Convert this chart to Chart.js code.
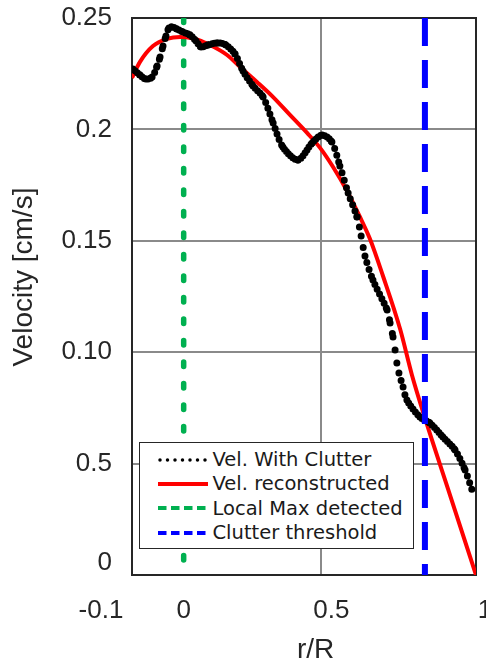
<!DOCTYPE html>
<html>
<head>
<meta charset="utf-8">
<script src="https://cdn.jsdelivr.net/npm/chart.js@4.4.1/dist/chart.umd.min.js"></script>
<style>
  body { margin: 0; background: #fff; }
  #wrap { position: relative; width: 486px; height: 667px; }
  #legend {
    position: absolute; left: 139px; top: 442px; width: 275px; height: 107px;
    box-sizing: border-box; border: 1.5px solid #262626; background: #fff;
    font-family: "DejaVu Sans", Verdana, sans-serif; font-size: 19.5px; color: #1a1a1a;
    padding-top: 4.5px;
  }
  .row { display: flex; align-items: center; height: 24.3px; white-space: nowrap; }
  .row svg { margin-left: 17.5px; margin-right: 5px; flex: none; }
</style>
</head>
<body>
<div id="wrap">
  <canvas id="chart" width="486" height="667"></canvas>
  <div id="legend"></div>
</div>
<script>
// values
const clutterR = [-0.172, -0.148, -0.128, -0.107, -0.090, -0.080, -0.070, -0.060, -0.050, -0.040,
  -0.023, -0.002, 0.021, 0.042, 0.059, 0.082, 0.116, 0.143, 0.174, 0.201,
  0.235, 0.269, 0.303, 0.336, 0.387, 0.435, 0.469, 0.502, 0.529, 0.557,
  0.587, 0.601, 0.614, 0.641, 0.689, 0.699, 0.709, 0.716, 0.722, 0.729,
  0.743, 0.756, 0.800, 0.834, 0.878, 0.919, 0.953, 0.980];
const clutterVel = [0.2271, 0.2244, 0.2226, 0.2235, 0.2285, 0.2325, 0.2374, 0.2419, 0.2455, 0.2460,
  0.2451, 0.2437, 0.2424, 0.2397, 0.2370, 0.2379, 0.2388, 0.2379, 0.2338, 0.2262,
  0.2195, 0.2145, 0.2029, 0.1921, 0.1863, 0.1939, 0.1975, 0.1943, 0.1836, 0.1715,
  0.1607, 0.1522, 0.1432, 0.1324, 0.1189, 0.1131, 0.1068, 0.1010, 0.0952, 0.0907,
  0.0844, 0.0785, 0.0709, 0.0682, 0.0619, 0.0561, 0.0471, 0.0368];

const reconR = [-0.175, -0.148, -0.104, -0.057, -0.012, 0.032, 0.089, 0.147, 0.191, 0.248,
  0.303, 0.360, 0.418, 0.462, 0.506, 0.553, 0.597, 0.631, 0.675, 0.733,
  0.773, 0.817, 0.902, 0.990];
const reconVel = [0.2231, 0.2303, 0.2374, 0.2406, 0.2415, 0.2408, 0.2379, 0.2334, 0.2280, 0.2213,
  0.2145, 0.2065, 0.1984, 0.1917, 0.1831, 0.1724, 0.1607, 0.1508, 0.1342, 0.1104,
  0.0898, 0.0705, 0.0359, 0];

const localMaxR = 0;
const thresholdR = 0.817;

const xMin = -0.175, xMax = 0.99;
const yMin = 0, yMax = 0.25;
const xGridValues = [0.465];
const xTickValues = [-0.28, 0, 0.5, 1.02];
const xTickLabels = ['-0.1', '0', '0.5', '1'];
const yTickValues = [0.0054, 0.05, 0.10, 0.15, 0.20, 0.25];
const yTickLabels = ['0', '0.5', '0.10', '0.15', '0.2', '0.25'];

const legendLabels = ['Vel. With Clutter', 'Vel. reconstructed', 'Local Max detected', 'Clutter threshold'];
const seriesColors = ['#000000', '#ff0000', '#00b050', '#0000ff'];

const textColor = '#262626';
const axisColor = '#262626';
const gridColor = '#8a8a8a';
const tickFont = { family: '"Liberation Sans", Arial, sans-serif', size: 26 };
const titleFont = { family: '"Liberation Sans", Arial, sans-serif', size: 28 };

function pairs(xs, ys) {
  return xs.map((x, i) => ({ x: x, y: ys[i] }));
}

// the clutter curve is a string of dots evenly spaced in x: dense where flat, apart where steep
function dotSpacing(ctx) {
  const dx = Math.abs(ctx.p1.x - ctx.p0.x) || 0.1;
  const len = Math.hypot(ctx.p1.x - ctx.p0.x, ctx.p1.y - ctx.p0.y);
  return [0, Math.max(len / (dx / 2.2), 1)];
}

const ctx = document.getElementById('chart');

new Chart(ctx, {
  type: 'line',
  data: {
    datasets: [{
      label: legendLabels[0],
      data: pairs(clutterR, clutterVel),
      borderColor: seriesColors[0],
      borderWidth: 7,
      borderCapStyle: 'round',
      borderJoinStyle: 'round',
      tension: 0.3,
      segment: { borderDash: dotSpacing },
      xAxisID: 'x', yAxisID: 'y',
      order: 1
    }, {
      label: legendLabels[1],
      data: pairs(reconR, reconVel),
      borderColor: seriesColors[1],
      borderWidth: 4,
      cubicInterpolationMode: 'monotone',
      xAxisID: 'x', yAxisID: 'y',
      order: 2
    }, {
      label: legendLabels[2],
      data: pairs([localMaxR, localMaxR], [yMax, yMin]),
      borderColor: seriesColors[2],
      borderWidth: 5.5,
      borderCapStyle: 'round',
      borderDash: [4.5, 17],
      xAxisID: 'x', yAxisID: 'y',
      order: 3
    }, {
      label: legendLabels[3],
      data: pairs([thresholdR, thresholdR], [yMax, yMin]),
      borderColor: seriesColors[3],
      borderWidth: 6,
      borderDash: [28, 14],
      xAxisID: 'x', yAxisID: 'y',
      order: 0
    }]
  },
  options: {
    responsive: false,
    animation: false,
    layout: { padding: { top: 18, right: 10, left: 0, bottom: 0 } },
    elements: { point: { radius: 0, hoverRadius: 0 } },
    plugins: { legend: { display: false }, tooltip: { enabled: false } },
    scales: {
      // data axis: carries the single vertical grid line and the lower box edge
      x: {
        type: 'linear', position: 'bottom', min: xMin, max: xMax, weight: 1,
        afterBuildTicks: s => { s.ticks = xGridValues.map(v => ({ value: v })); },
        ticks: { display: false },
        grid: { color: gridColor, lineWidth: 2, drawTicks: false },
        border: { display: true, color: axisColor, width: 2 },
        afterFit: s => { s.height = 0; s.paddingLeft = 0; s.paddingRight = 0; }
      },
      // label axis: tick texts and the axis title
      xl: {
        type: 'linear', position: 'bottom', min: xMin, max: xMax, weight: 10,
        afterBuildTicks: s => { s.ticks = xTickValues.map(v => ({ value: v })); },
        ticks: {
          autoSkip: false, minRotation: 0, maxRotation: 0, padding: 20,
          color: textColor, font: tickFont,
          callback: (v, i) => xTickLabels[i]
        },
        grid: { display: false, drawTicks: false },
        border: { display: false },
        title: { display: true, text: '   r/R', color: textColor, font: titleFont, padding: { top: 0, bottom: 0 } },
        afterFit: s => { s.height = 92; s.paddingLeft = 0; s.paddingRight = 0; }
      },
      xt: {
        type: 'linear', position: 'top', min: xMin, max: xMax,
        ticks: { display: false },
        grid: { drawOnChartArea: false, drawTicks: false },
        border: { display: true, color: axisColor, width: 2 },
        afterFit: s => { s.height = 0; s.paddingLeft = 0; s.paddingRight = 0; }
      },
      y: {
        type: 'linear', position: 'left', min: yMin, max: yMax,
        afterBuildTicks: s => { s.ticks = yTickValues.map(v => ({ value: v })); },
        ticks: {
          autoSkip: false, padding: 20, color: textColor, font: tickFont,
          callback: (v, i) => yTickLabels[i]
        },
        grid: {
          color: c => (c.tick && c.tick.value < 0.01) ? 'rgba(0,0,0,0)' : gridColor,
          lineWidth: 2, drawTicks: false
        },
        border: { display: true, color: axisColor, width: 2 },
        title: { display: true, text: '     Velocity [cm/s]', color: textColor, font: titleFont, padding: { top: 7, bottom: 0 } },
        afterFit: s => { s.width = 132; s.paddingTop = 0; s.paddingBottom = 0; }
      },
      yr: {
        type: 'linear', position: 'right', min: yMin, max: yMax,
        ticks: { display: false },
        grid: { drawOnChartArea: false, drawTicks: false },
        border: { display: true, color: axisColor, width: 2 },
        afterFit: s => { s.width = 0; s.paddingTop = 0; s.paddingBottom = 0; }
      }
    }
  }
});

// legend box, drawn as html on top of the plot
const legendStyles = [
  { width: 3.5, dash: '0 7.5', cap: 'round' },
  { width: 4, dash: '', cap: 'butt' },
  { width: 4, dash: '8.5 4.5', cap: 'butt' },
  { width: 4, dash: '8.5 4.5', cap: 'butt' }
];
const legendBox = document.getElementById('legend');
legendLabels.forEach((label, i) => {
  const st = legendStyles[i];
  const row = document.createElement('div');
  row.className = 'row';
  row.innerHTML = '<svg width="50" height="10"><line x1="' + (st.cap === 'round' ? 2 : 0) + '" y1="5" x2="50" y2="5" stroke="' + seriesColors[i] +
    '" stroke-width="' + st.width + '" stroke-linecap="' + st.cap + '"' +
    (st.dash ? ' stroke-dasharray="' + st.dash + '"' : '') + '/></svg>';
  const span = document.createElement('span');
  span.textContent = label;
  row.appendChild(span);
  legendBox.appendChild(row);
});
</script>
</body>
</html>
